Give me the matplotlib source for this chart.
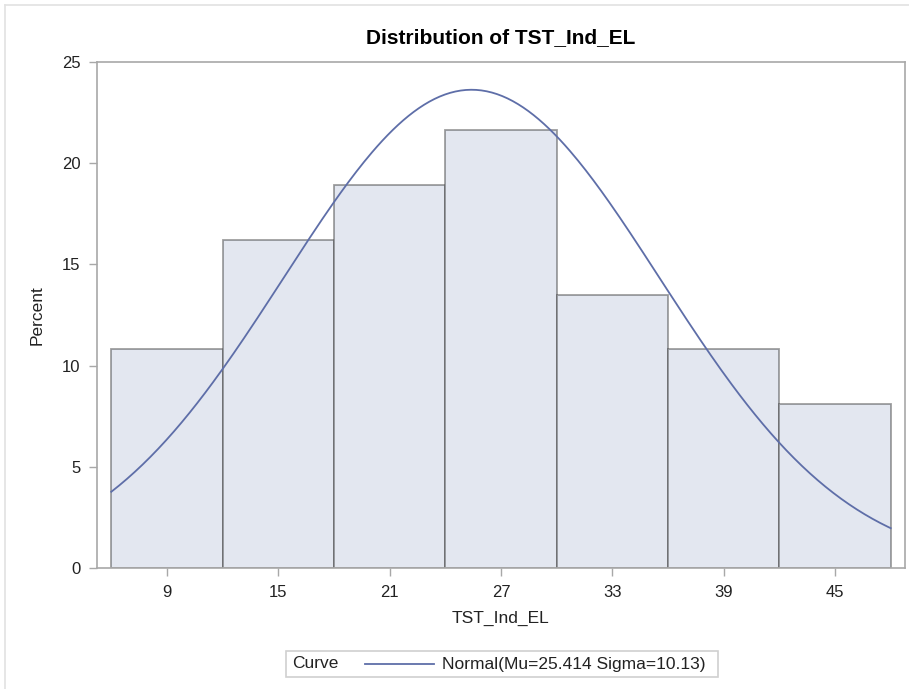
import numpy as np
import matplotlib.pyplot as plt
from matplotlib.patches import Rectangle
from matplotlib.lines import Line2D

plt.rcParams['font.family'] = ['Liberation Sans', 'DejaVu Sans']

# histogram data (percent of observations per bin)
midpoints = [9, 15, 21, 27, 33, 39, 45]
percent = [10.81, 16.22, 18.92, 21.62, 13.51, 10.81, 8.11]
bin_width = 6

# fitted normal curve parameters
mu = 25.414
sigma = 10.13

yticks = [0, 5, 10, 15, 20, 25]

fig = plt.figure(figsize=(9.09, 6.89), dpi=100)
ax = fig.add_axes([0.1067, 0.1756, 0.8889, 0.7344])

# bars
ax.bar(midpoints, percent, width=bin_width, color='#e3e7f0',
       edgecolor=(0.25, 0.25, 0.25, 0.5), linewidth=1.3, zorder=2)

# normal density scaled to percent
lo = midpoints[0] - bin_width / 2
hi = midpoints[-1] + bin_width / 2
xs = np.linspace(lo, hi, 300)
ys = 100 * bin_width * np.exp(-0.5 * ((xs - mu) / sigma) ** 2) / (sigma * np.sqrt(2 * np.pi))
ax.plot(xs, ys, color='#5e6ea8', lw=1.3, zorder=3)

pad = 0.77
ax.set_xlim(lo - pad, hi + pad)
ax.set_ylim(0, 25)
ax.set_xticks(midpoints)
ax.set_yticks(yticks)

for s in ax.spines.values():
    s.set_color('#a8a8a8')
    s.set_linewidth(1.2)
ax.tick_params(direction='out', length=6, width=1, color='#a8a8a8',
               labelsize=12, labelcolor='#222222', pad=6)

ax.set_xlabel('TST_Ind_EL', fontsize=12.5, color='#222222', labelpad=8)
ax.set_ylabel('Percent', fontsize=12.5, color='#222222', labelpad=12)
ax.set_title('Distribution of TST_Ind_EL', fontsize=15, fontweight='bold', pad=14)

# outer light frame
fig.add_artist(Line2D([5 / 909, 1], [1 - 5 / 689, 1 - 5 / 689], color='#e2e2e2', lw=1.2))
fig.add_artist(Line2D([5 / 909, 5 / 909], [0, 1 - 5 / 689], color='#e2e2e2', lw=1.2))

# legend box
W, H = 909, 689
fig.add_artist(Rectangle((286 / W, 1 - 677 / H), 432 / W, 26 / H, transform=fig.transFigure,
                         facecolor='white', edgecolor='#d0d0d0', lw=1.2))
fig.text(292 / W, 1 - 664 / H, 'Curve', fontsize=12.5, va='center', ha='left', color='#222222')
fig.add_artist(Line2D([365 / W, 434 / W], [1 - 664 / H, 1 - 664 / H], color='#5e6ea8', lw=1.3))
fig.text(442 / W, 1 - 664 / H, 'Normal(Mu=%.3f Sigma=%.2f)' % (mu, sigma), fontsize=12.5,
         va='center', ha='left', color='#222222')

plt.savefig('out.png', dpi=100)
